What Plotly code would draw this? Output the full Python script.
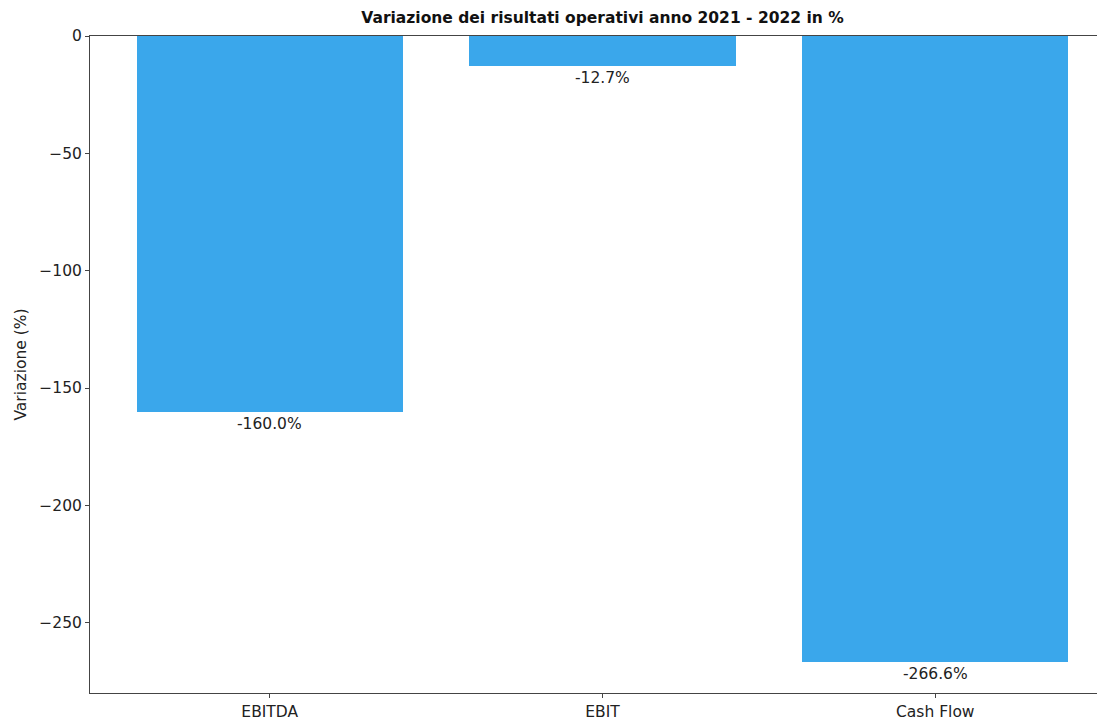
import plotly.graph_objects as go

categories = ["EBITDA", "EBIT", "Cash Flow"]
values = [-160.0, -12.7, -266.6]
tick_vals = [0, -50, -100, -150, -200, -250]
tick_text = ["0", "\u221250", "\u2212100", "\u2212150", "\u2212200", "\u2212250"]

# page body has an 8px margin; compensate so the plot lands where the reference has it
OFF = 8
W, H = 1105 - OFF, 722 - OFF
L, R, T, B = 90 - OFF, 0, 36 - OFF, 722 - 693
FONT = "DejaVu Sans"
FS = 15.5

fig = go.Figure()
fig.add_trace(go.Bar(
    x=list(range(len(categories))), y=values, width=0.8,
    marker=dict(color="#3AA7EB", line=dict(width=0)),
    hoverinfo="skip",
))

for i, v in enumerate(values):
    fig.add_annotation(
        x=i, y=v, xref="x", yref="y", text=f"{v:.1f}%",
        showarrow=False, yanchor="top", yshift=-1,
        font=dict(family=FONT, size=FS, color="#222222"),
    )

fig.update_layout(
    width=W, height=H,
    margin=dict(l=L, r=R, t=T, b=B, pad=0, autoexpand=False),
    paper_bgcolor="white", plot_bgcolor="white",
    showlegend=False,
    bargap=0,
    title=dict(
        text="<b>Variazione dei risultati operativi anno 2021 - 2022 in %</b>",
        x=(602.5 - 90) / (1105 - 90), xref="paper", xanchor="center",
        y=1 - (18 - OFF) / H, yref="container", yanchor="middle",
        font=dict(family=FONT, size=FS, color="#111111"),
    ),
    font=dict(family=FONT, size=FS, color="#222222"),
)

fig.update_xaxes(
    range=[-0.54, 2.51],
    tickvals=list(range(len(categories))), ticktext=categories,
    showgrid=False, zeroline=False,
    showline=True, linecolor="#444444", linewidth=1, mirror=True,
    ticks="outside", ticklen=4, tickcolor="#444444", tickwidth=1,
    tickfont=dict(family=FONT, size=FS, color="#222222"),
    automargin=False,
)
fig.update_yaxes(
    range=[-279.93, 0],
    tickvals=tick_vals, ticktext=tick_text,
    showgrid=False, zeroline=False,
    showline=True, linecolor="#444444", linewidth=1, mirror=False,
    ticks="outside", ticklen=4, tickcolor="#444444", tickwidth=1,
    tickfont=dict(family=FONT, size=FS, color="#222222"),
    title=dict(text="Variazione (%)", standoff=8,
               font=dict(family=FONT, size=FS, color="#222222")),
    automargin=False,
)

fig.write_html("out.html")
